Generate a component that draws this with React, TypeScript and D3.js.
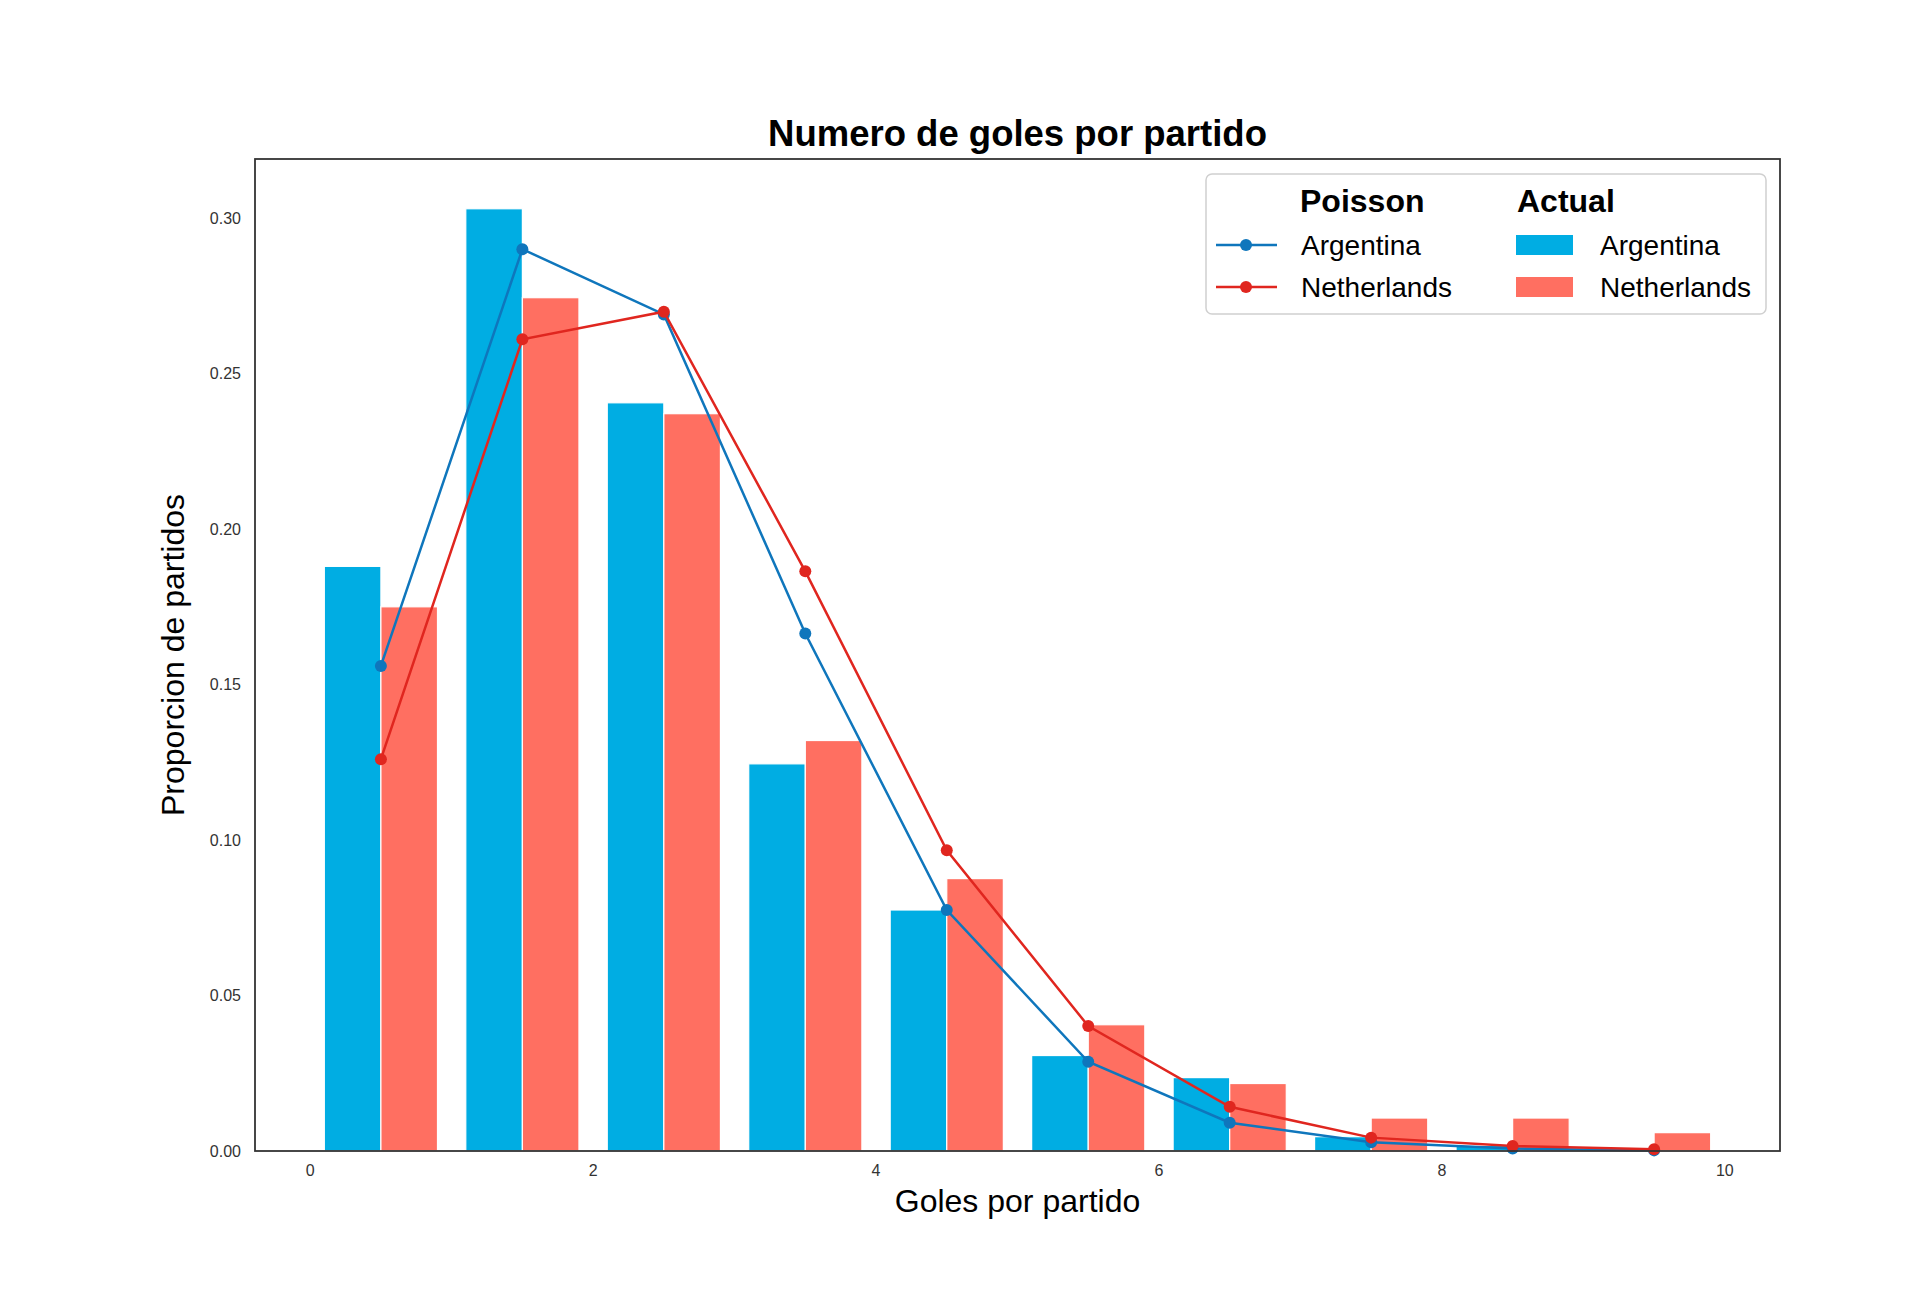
import React from "react";
import * as d3 from "d3";

// goals per match bins 0..9
const bins = [0, 1, 2, 3, 4, 5, 6, 7, 8, 9];

// actual share of matches (histogram bars)
const actualArgentina = [0.188, 0.303, 0.2406, 0.1245, 0.0775, 0.0307, 0.0236, 0.0046, 0.0018, 0];
const actualNetherlands = [0.175, 0.2744, 0.2371, 0.132, 0.0876, 0.0406, 0.0217, 0.0106, 0.0106, 0.0059];

// poisson estimate (lines, drawn at bin centres)
const poissonArgentina = [0.156, 0.29, 0.269, 0.1664, 0.0775, 0.0287, 0.0091, 0.0028, 0.0008, 0.0002];
const poissonNetherlands = [0.126, 0.261, 0.2699, 0.1864, 0.0967, 0.0402, 0.0142, 0.0043, 0.0016, 0.0006];

const xTicks = [0, 2, 4, 6, 8, 10];
const yTicks = [0, 0.05, 0.1, 0.15, 0.2, 0.25, 0.3];

const BLUE_BAR = "#00ade3";
const RED_BAR = "#ff6f61";
const BLUE_LINE = "#0f76bc";
const RED_LINE = "#e0261f";
const FONT = "'Liberation Sans', Arial, sans-serif";

const App: React.FC = () => {
  const width = 1920;
  const height = 1316;
  const plot = { left: 255, right: 1780, top: 159, bottom: 1151 };

  const x = d3.scaleLinear().domain([-0.39, 10.39]).range([plot.left, plot.right]);
  const y = d3.scaleLinear().domain([0, 0.319]).range([plot.bottom, plot.top]);

  const line = d3
    .line<number>()
    .x((_, i) => x(bins[i] + 0.5))
    .y((d) => y(d));

  const bars = (values: number[], offset: number, color: string) =>
    values.map((v, i) => (
      <rect
        key={`${color}-${i}`}
        x={x(bins[i] + offset)}
        y={y(v)}
        width={x(bins[i] + offset + 0.4) - x(bins[i] + offset)}
        height={y(0) - y(v)}
        fill={color}
        stroke="#ffffff"
        strokeWidth={1.2}
      />
    ));

  const poisson = [
    { values: poissonArgentina, color: BLUE_LINE },
    { values: poissonNetherlands, color: RED_LINE },
  ];

  return (
    <svg
      width={width}
      height={height}
      style={{ position: "absolute", left: 0, top: 0, background: "#fff" }}
      fontFamily={FONT}
    >
      {/* title */}
      <text x={(plot.left + plot.right) / 2} y={146} textAnchor="middle" fontSize={36.5} fontWeight="bold" fill="#000">
        Numero de goles por partido
      </text>

      {/* bars */}
      {bars(actualArgentina, 0.1, BLUE_BAR)}
      {bars(actualNetherlands, 0.5, RED_BAR)}

      {/* poisson lines */}
      {poisson.map((s) => (
        <g key={s.color}>
          <path d={line(s.values) ?? ""} fill="none" stroke={s.color} strokeWidth={2.5} />
          {s.values.map((v, i) => (
            <circle key={i} cx={x(bins[i] + 0.5)} cy={y(v)} r={6} fill={s.color} />
          ))}
        </g>
      ))}

      {/* frame */}
      <rect
        x={plot.left}
        y={plot.top}
        width={plot.right - plot.left}
        height={plot.bottom - plot.top}
        fill="none"
        stroke="#333"
        strokeWidth={1.8}
      />

      {/* y ticks */}
      {yTicks.map((t) => (
        <text key={t} x={241} y={y(t)} dy="0.35em" textAnchor="end" fontSize={16} fill="#333">
          {d3.format(".2f")(t)}
        </text>
      ))}

      {/* x ticks */}
      {xTicks.map((t) => (
        <text key={t} x={x(t)} y={1176} textAnchor="middle" fontSize={16} fill="#333">
          {t}
        </text>
      ))}

      {/* axis labels */}
      <text x={(plot.left + plot.right) / 2} y={1212} textAnchor="middle" fontSize={32} fill="#000">
        Goles por partido
      </text>
      <text
        transform={`translate(184, ${(plot.top + plot.bottom) / 2}) rotate(-90)`}
        textAnchor="middle"
        fontSize={32}
        fill="#000"
      >
        Proporcion de partidos
      </text>

      {/* legend */}
      <g>
        <rect x={1206} y={174} width={560} height={140} rx={6} fill="#fff" stroke="#d0d0d0" strokeWidth={1.5} />
        <text x={1300} y={212} fontSize={32} fontWeight="bold" fill="#000">
          Poisson
        </text>
        <text x={1517} y={212} fontSize={32} fontWeight="bold" fill="#000">
          Actual
        </text>
        {[
          { label: "Argentina", line: BLUE_LINE, bar: BLUE_BAR, cy: 245 },
          { label: "Netherlands", line: RED_LINE, bar: RED_BAR, cy: 287 },
        ].map((r) => (
          <g key={r.label}>
            <line x1={1216} x2={1277} y1={r.cy} y2={r.cy} stroke={r.line} strokeWidth={2.5} />
            <circle cx={1246} cy={r.cy} r={6} fill={r.line} />
            <text x={1301} y={r.cy + 9.5} fontSize={28} fill="#000">
              {r.label}
            </text>
            <rect x={1516} y={r.cy - 10} width={57} height={20} fill={r.bar} />
            <text x={1600} y={r.cy + 9.5} fontSize={28} fill="#000">
              {r.label}
            </text>
          </g>
        ))}
      </g>
    </svg>
  );
};

export default App;
